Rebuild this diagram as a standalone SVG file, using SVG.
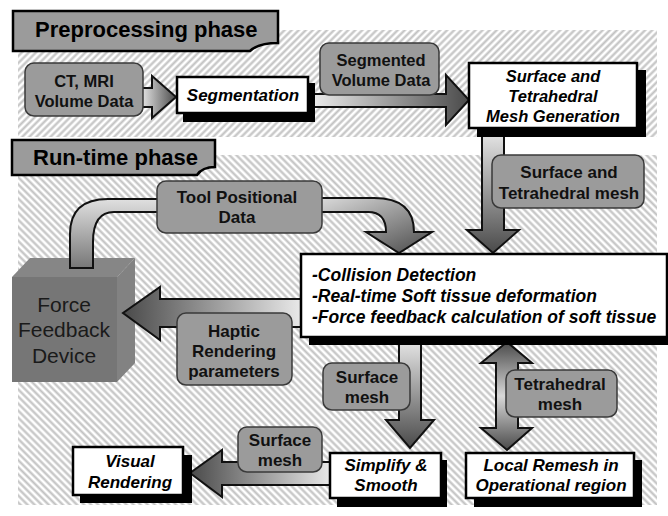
<svg xmlns="http://www.w3.org/2000/svg" width="668" height="516" viewBox="0 0 668 516">
<defs>
<pattern id="hatchA" width="5" height="5" patternUnits="userSpaceOnUse" patternTransform="rotate(45)"><rect width="5" height="5" fill="#fff"/><line x1="2.5" y1="0" x2="2.5" y2="5" stroke="#c2c2c2" stroke-width="2.2"/></pattern>
<pattern id="hatchB" width="5" height="5" patternUnits="userSpaceOnUse" patternTransform="rotate(-45)"><rect width="5" height="5" fill="#fff"/><line x1="2.5" y1="0" x2="2.5" y2="5" stroke="#c2c2c2" stroke-width="2.2"/></pattern>
<linearGradient id="gR" x1="0" y1="0" x2="1" y2="0"><stop offset="0" stop-color="#ececec"/><stop offset="1" stop-color="#4a4a4a"/></linearGradient>
<linearGradient id="gL" x1="0" y1="0" x2="1" y2="0"><stop offset="0" stop-color="#4a4a4a"/><stop offset="1" stop-color="#ececec"/></linearGradient>
<linearGradient id="gD" x1="0" y1="0" x2="0" y2="1"><stop offset="0" stop-color="#e6e6e6"/><stop offset="1" stop-color="#4a4a4a"/></linearGradient>
<linearGradient id="gU" x1="0" y1="0" x2="0" y2="1"><stop offset="0" stop-color="#e0e0e0"/><stop offset="1" stop-color="#777"/></linearGradient>
<linearGradient id="gUD" x1="0" y1="0" x2="0" y2="1"><stop offset="0" stop-color="#4a4a4a"/><stop offset="0.5" stop-color="#d8d8d8"/><stop offset="1" stop-color="#4a4a4a"/></linearGradient>
<linearGradient id="gCurve" x1="0" y1="0" x2="1" y2="1"><stop offset="0" stop-color="#e6e6e6"/><stop offset="1" stop-color="#4a4a4a"/></linearGradient>
</defs>
<style>
.lbl{fill:#9b9b9b;stroke:#3a3a3a;stroke-width:1.5}
.lt{font-family:"Liberation Sans",Arial,sans-serif;font-weight:bold;font-size:17px;fill:#111;text-anchor:middle}
.nd{fill:#fff;stroke:#000;stroke-width:2.5}
.sh{fill:#000}
.nt{font-family:"Liberation Sans",Arial,sans-serif;font-weight:bold;font-style:italic;font-size:17px;fill:#000;text-anchor:middle}
.ntl{font-family:"Liberation Sans",Arial,sans-serif;font-weight:bold;font-style:italic;font-size:17.5px;fill:#000;text-anchor:start}
.ph{fill:#9b9b9b;stroke:#000;stroke-width:2.5}
.pt{font-family:"Liberation Sans",Arial,sans-serif;font-weight:bold;font-size:22px;fill:#000}
.dt{font-family:"Liberation Sans",Arial,sans-serif;font-size:21px;fill:#1a1a1a;text-anchor:middle}
.ar{stroke:#111;stroke-width:2;stroke-linejoin:miter}
</style>

<!-- backgrounds -->
<rect x="18" y="30" width="639" height="107" fill="url(#hatchA)"/>
<rect x="18" y="155" width="639" height="350" fill="url(#hatchB)"/>

<!-- phase labels -->
<g id="preprocessing-phase">
<path class="ph" d="M13,11 H278 V43 C268,43 256,45 250,51 H13 Z"/>
<text class="pt" x="35" y="37">Preprocessing phase</text>
</g>
<g id="runtime-phase">
<path class="ph" d="M12,140 H215 V167 C208,167 201,169 197,175 H12 Z"/>
<text class="pt" x="33" y="165">Run-time phase</text>
</g>

<!-- force feedback device cube -->
<g id="force-feedback-device">
<polygon points="12,277 117,277 135,258 30,258" fill="#868686"/>
<polygon points="117,277 135,258 135,363 117,382" fill="#828282"/>
<rect x="12" y="277" width="105" height="105" fill="#767676"/>
<text class="dt" x="64" y="312">Force</text>
<text class="dt" x="64" y="337">Feedback</text>
<text class="dt" x="64" y="363">Device</text>
</g>

<!-- connectors -->
<g id="connectors">
<path class="ar" fill="url(#gR)" d="M140,88 H152 V76 L176,97 L152,118 V107 H140 Z"/>
<path class="ar" fill="url(#gR)" d="M312,94 H446 V75 L469,100 L446,125 V107 H312 Z"/>
<path class="ar" fill="url(#gD)" d="M482,132 H504 V230 H519 L493,253 L467,230 H482 Z"/>
<path class="ar" fill="url(#gU)" d="M70,268 V234 Q70,199 108,199 H170 V212 H114 Q93,212 93,242 V268 Z"/>
<path class="ar" fill="url(#gCurve)" d="M300,198 H374 Q414,198 414,232 H432 L399,253 L366,232 H386 Q386,212 368,212 H300 Z"/>
<path class="ar" fill="url(#gL)" d="M305,299 H160 V287 L123,313 L160,340 V327 H305 Z"/>
<path class="ar" fill="url(#gD)" d="M399,340 H421 V420 H434 L410,448 L386,420 H399 Z"/>
<path class="ar" fill="url(#gUD)" d="M507,342 L532,363 H518 V428 H532 L507,450 L481,428 H496 V363 H481 Z"/>
<path class="ar" fill="url(#gL)" d="M334,462 H222 V450 L190,473 L222,497 V485 H334 Z"/>
</g>

<!-- label boxes -->
<g id="ct-mri">
<rect class="lbl" x="25" y="63" width="118" height="53" rx="9"/>
<text class="lt" x="84" y="87" style="font-size:16.5px">CT, MRI</text>
<text class="lt" x="84" y="107" style="font-size:16.5px">Volume Data</text>
</g>
<g id="segmented-volume-data">
<rect class="lbl" x="320" y="43" width="119" height="52" rx="9"/>
<text class="lt" x="381" y="66" style="font-size:16.5px">Segmented</text>
<text class="lt" x="381" y="86" style="font-size:16.5px">Volume Data</text>
</g>
<g id="surface-tetra-mesh-label">
<rect class="lbl" x="492" y="155" width="152" height="53" rx="9"/>
<text class="lt" x="569" y="178">Surface and</text>
<text class="lt" x="569" y="199">Tetrahedral mesh</text>
</g>
<g id="tool-positional-data">
<rect class="lbl" x="157" y="181" width="165" height="52" rx="9"/>
<text class="lt" x="237" y="203">Tool Positional</text>
<text class="lt" x="237" y="223">Data</text>
</g>
<g id="haptic-rendering-parameters">
<rect class="lbl" x="177" y="313" width="115" height="72" rx="9"/>
<text class="lt" x="234" y="337">Haptic</text>
<text class="lt" x="234" y="357">Rendering</text>
<text class="lt" x="234" y="377">parameters</text>
</g>
<g id="surface-mesh-mid">
<rect class="lbl" x="323" y="363" width="87" height="47" rx="9"/>
<text class="lt" x="367" y="383">Surface</text>
<text class="lt" x="367" y="403">mesh</text>
</g>
<g id="tetrahedral-mesh-label">
<rect class="lbl" x="506" y="370" width="111" height="47" rx="9"/>
<text class="lt" x="560" y="390">Tetrahedral</text>
<text class="lt" x="560" y="410">mesh</text>
</g>
<g id="surface-mesh-bottom">
<rect class="lbl" x="238" y="427" width="84" height="45" rx="9"/>
<text class="lt" x="280" y="446">Surface</text>
<text class="lt" x="280" y="466">mesh</text>
</g>

<!-- nodes -->
<g id="segmentation">
<rect class="sh" x="183" y="83" width="132" height="39"/>
<rect class="nd" x="177" y="77" width="131" height="36"/>
<text class="nt" x="243" y="101">Segmentation</text>
</g>
<g id="surface-tetra-generation">
<rect class="sh" x="477" y="70" width="169" height="67"/>
<rect class="nd" x="469" y="63" width="168" height="65"/>
<text class="nt" x="553" y="82" style="font-size:16.5px">Surface and</text>
<text class="nt" x="553" y="102" style="font-size:16.5px">Tetrahedral</text>
<text class="nt" x="553" y="122" style="font-size:16.5px">Mesh Generation</text>
</g>
<g id="collision-deformation">
<rect class="sh" x="309" y="262" width="362" height="83"/>
<rect class="nd" x="301" y="254" width="366" height="83"/>
<text class="ntl" x="312" y="281">-Collision Detection</text>
<text class="ntl" x="312" y="302">-Real-time Soft tissue deformation</text>
<text class="ntl" x="312" y="323">-Force feedback calculation of soft tissue</text>
</g>
<g id="simplify-smooth">
<rect class="sh" x="337" y="460" width="110" height="47"/>
<rect class="nd" x="330" y="453" width="111" height="45"/>
<text class="nt" x="386" y="471">Simplify &amp;</text>
<text class="nt" x="386" y="491">Smooth</text>
</g>
<g id="local-remesh">
<rect class="sh" x="474" y="460" width="168" height="47"/>
<rect class="nd" x="466" y="453" width="168" height="45"/>
<text class="nt" x="551" y="471">Local Remesh in</text>
<text class="nt" x="551" y="491">Operational region</text>
</g>
<g id="visual-rendering">
<rect class="sh" x="80" y="455" width="112" height="48"/>
<rect class="nd" x="73" y="447" width="110" height="48"/>
<text class="nt" x="130" y="467">Visual</text>
<text class="nt" x="130" y="488">Rendering</text>
</g>
</svg>
